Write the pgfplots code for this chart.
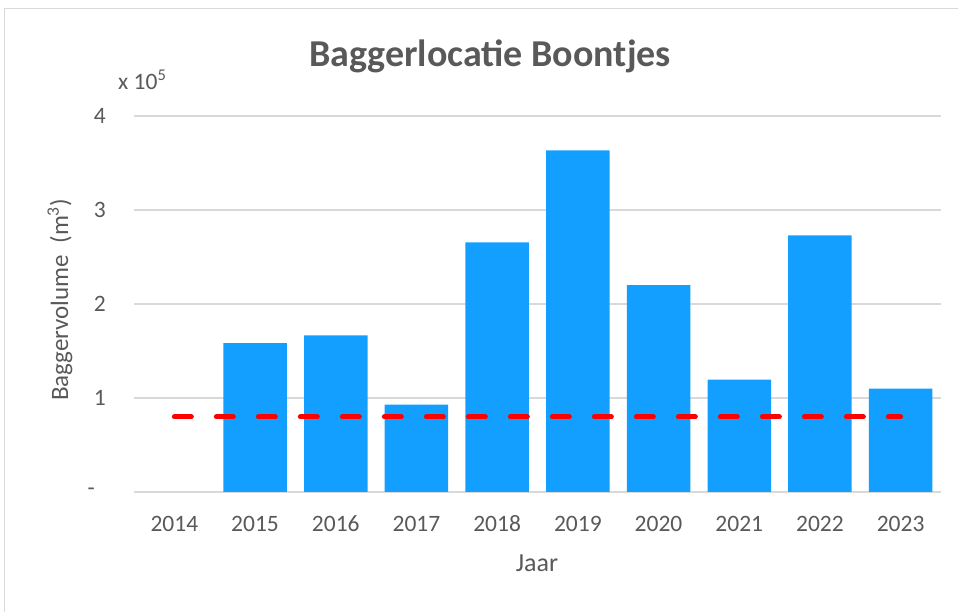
\documentclass[border=0pt]{standalone}
\usepackage{pgfplots}
\pgfplotsset{compat=1.18}
\usepackage{fontspec}
\setmainfont{Carlito}
\definecolor{txt}{HTML}{595959}
\definecolor{gridc}{HTML}{D9D9D9}
\definecolor{barc}{RGB}{19,159,255}
\begin{document}
\begin{tikzpicture}[x=1pt,y=1pt]
\useasboundingbox (0,0) rectangle (958,612);
\draw[gridc, line width=1.5pt] (4.5,0) -- (4.5,603.5) -- (958,603.5);
\begin{axis}[
  at={(134pt,120pt)}, anchor=south west,
  scale only axis, width=807pt, height=376pt,
  xmin=-0.5, xmax=9.5, ymin=0, ymax=4,
  axis line style={draw=none},
  major tick length=0pt,
  xtick={0,...,9},
  xticklabels={2014,2015,2016,2017,2018,2019,2020,2021,2022,2023},
  ytick={0,1,2,3,4},
  yticklabels={{-\hspace*{11pt}\mbox{}},1,2,3,4},
  ymajorgrids=true, xmajorgrids=false,
  major grid style={draw=gridc, line width=1.5pt},
  tick label style={font=\fontsize{23.5}{27}\selectfont, text=txt, inner sep=0pt},
  xticklabel style={anchor=center, yshift=-32pt},
  yticklabel style={anchor=east, xshift=-28pt},
  clip=false,
]
\addplot[ybar, bar width=63.5pt, bar shift=0pt, fill=barc, draw=none] coordinates {
  (1,1.585) (2,1.665) (3,0.93) (4,2.655) (5,3.635) (6,2.20) (7,1.195) (8,2.73) (9,1.10)
};
\addplot[red, line width=5pt, line cap=round, dash pattern=on 17pt off 25pt, mark=none] coordinates {
  (0,0.8) (1,0.8) (2,0.8) (3,0.8) (4,0.8) (5,0.8) (6,0.8) (7,0.8) (8,0.8) (9,0.8)
};
\end{axis}
\node[anchor=base, text=txt, font=\fontsize{38}{44}\selectfont\bfseries, inner sep=0pt] at (490,545) {Baggerlocatie Boontjes};
\node[anchor=base west, text=txt, font=\fontsize{23.5}{27}\selectfont, inner sep=0pt] at (118,522) {x 10\textsuperscript{5}};
\node[anchor=center, text=txt, font=\fontsize{26}{30}\selectfont, inner sep=0pt] at (537,49) {Jaar};
\node[anchor=base, rotate=90, text=txt, font=\fontsize{25}{30}\selectfont, inner sep=0pt] at (68,312) {Baggervolume\ \ (m\textsuperscript{3})};
\end{tikzpicture}
\end{document}
